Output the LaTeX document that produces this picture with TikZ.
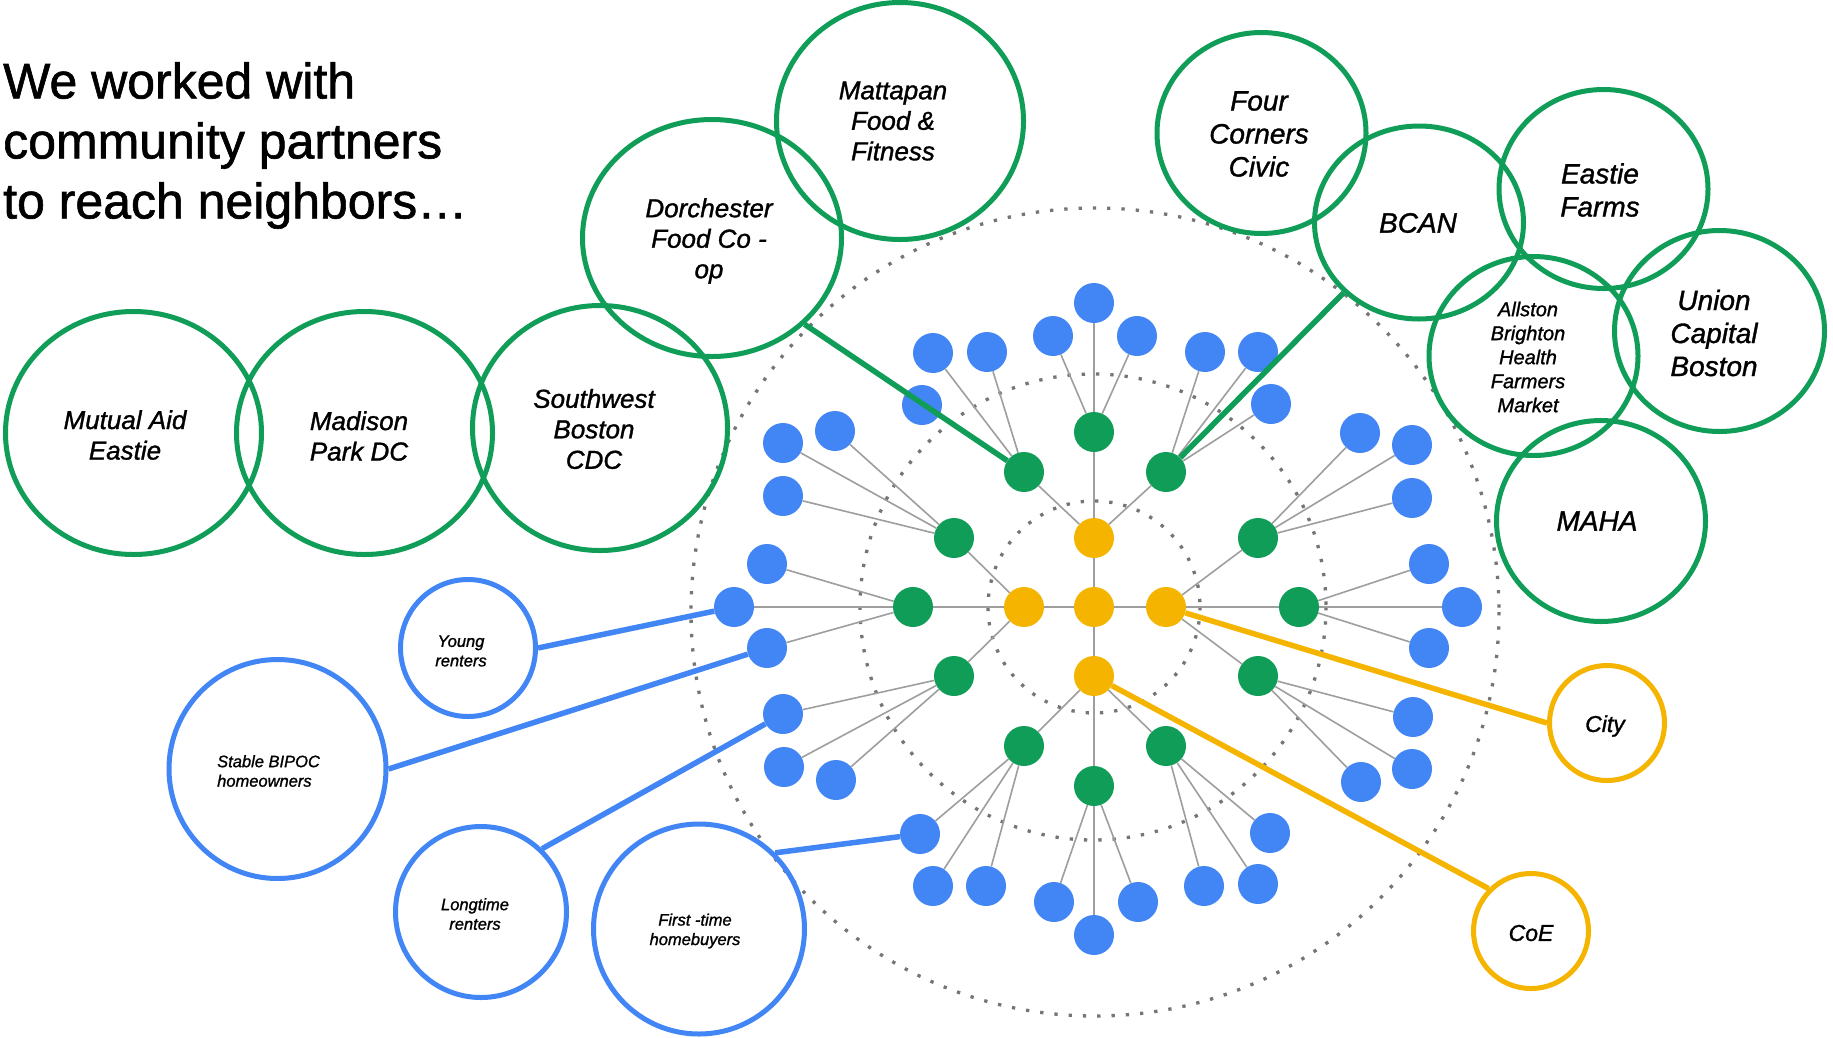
\documentclass[tikz,border=0pt]{standalone}
\usepackage{fontspec}
\setmainfont{Liberation Sans}[BoldFont={Liberation Sans},BoldItalicFont={Liberation Sans Italic},BoldFeatures={FakeBold=1.2},BoldItalicFeatures={FakeBold=1.2}]
\usetikzlibrary{shapes.geometric}
\definecolor{gg}{HTML}{0F9D58}
\definecolor{gb}{HTML}{4285F4}
\definecolor{gy}{HTML}{F4B400}
\definecolor{spokec}{HTML}{9E9E9E}
\definecolor{dotc}{HTML}{757575}
\begin{document}
\begin{tikzpicture}[x=1pt,y=-1pt,
  ynode/.style={circle,minimum size=40pt,inner sep=0pt,fill=gy},
  gnode/.style={circle,minimum size=40pt,inner sep=0pt,fill=gg},
  bnode/.style={circle,minimum size=40pt,inner sep=0pt,fill=gb},
  spokeline/.style={draw=spokec,line width=1.6pt},
  dotring/.style={draw=dotc,line width=3.3pt,dash pattern=on 3.3pt off 11pt},
  bigc/.style={ellipse,draw=#1,line width=5pt,inner sep=0pt},
  conn/.style={draw=#1,line width=5.5pt},
  lblA/.style={font=\fontsize{26}{30.5}\selectfont\bfseries\itshape,align=center,inner sep=0pt},
  lblB/.style={font=\fontsize{28}{33}\selectfont\bfseries\itshape,align=center,inner sep=0pt},
  lblC/.style={font=\fontsize{20}{24}\selectfont\bfseries\itshape,align=center,inner sep=0pt},
  lblD/.style={font=\fontsize{16.5}{19.5}\selectfont\bfseries\itshape,align=center,inner sep=0pt},
  lblE/.style={font=\fontsize{23}{27}\selectfont\bfseries\itshape,align=center,inner sep=0pt}]
\path[use as bounding box,fill=white] (0,0) rectangle (1833,1037);

% dotted rings
\draw[dotring] (1094,607) circle[radius=106];
\draw[dotring] (1093,607) circle[radius=233];
\draw[dotring] (1095,612) circle[radius=404];

% title
\node[anchor=north west,inner sep=0pt,align=left,font=\fontsize{50}{60}\selectfont\bfseries] (title) at (3,62)
  {We worked with\\community partners\\to reach neighbors…};

% yellow core
\node[ynode] (yc) at (1094,607) {};
\node[ynode] (yt) at (1094,538) {};
\node[ynode] (yl) at (1024,607) {};
\node[ynode] (yr) at (1166,607) {};
\node[ynode] (yb) at (1094,676) {};

% green ring
\node[gnode] (gN)  at (1094,432) {};
\node[gnode] (gNW) at (1024,472) {};
\node[gnode] (gNE) at (1166,472) {};
\node[gnode] (gWN) at (954,538) {};
\node[gnode] (gW)  at (913,607) {};
\node[gnode] (gWS) at (954,676) {};
\node[gnode] (gSW) at (1024,746) {};
\node[gnode] (gS)  at (1094,786) {};
\node[gnode] (gSE) at (1166,746) {};
\node[gnode] (gES) at (1258,676) {};
\node[gnode] (gE)  at (1299,607) {};
\node[gnode] (gEN) at (1258,538) {};

% blue leaves
\foreach \g/\ax/\ay/\bx/\by/\cx/\cy in {
  gN/1094/303/1053/336/1137/336,
  gNW/933/353/987/352/922/405,
  gNE/1205/352/1258/352/1271/404,
  gWN/783/443/835/431/783/496,
  gW/767/564/734/607/767/648,
  gWS/783/714/784/767/836/780,
  gSW/920/834/933/886/986/886,
  gS/1054/902/1094/935/1138/902,
  gSE/1270/833/1258/884/1204/886,
  gES/1413/717/1412/769/1361/782,
  gE/1429/564/1462/607/1429/648,
  gEN/1360/433/1412/445/1412/498}{
  \node[bnode] (\g-1) at (\ax,\ay) {};
  \node[bnode] (\g-2) at (\bx,\by) {};
  \node[bnode] (\g-3) at (\cx,\cy) {};
  \draw[spokeline] (\g) -- (\g-1);
  \draw[spokeline] (\g) -- (\g-2);
  \draw[spokeline] (\g) -- (\g-3);
}

% yellow-green spokes
\foreach \a/\b in {yc/yt,yc/yl,yc/yr,yc/yb,
  yt/gN,yt/gNW,yt/gNE,yl/gWN,yl/gW,yl/gWS,
  yb/gSW,yb/gS,yb/gSE,yr/gES,yr/gE,yr/gEN}
  \draw[spokeline] (\a) -- (\b);

% green partner ellipses
\node[bigc=gg,minimum width=256pt,minimum height=243pt] (mut) at (133.5,433) {};
\node[bigc=gg,minimum width=256pt,minimum height=243pt] (mad) at (364.5,433) {};
\node[bigc=gg,minimum width=255pt,minimum height=245pt] (sw) at (600,428) {};
\node[bigc=gg,minimum width=259pt,minimum height=237pt] (dor) at (712,238) {};
\node[bigc=gg,minimum width=247pt,minimum height=237pt] (mat) at (900,121) {};
\node[bigc=gg,minimum width=209pt,minimum height=201pt] (four) at (1261.5,133) {};
\node[bigc=gg,minimum width=209pt,minimum height=193pt] (bcan) at (1419,222.5) {};
\node[bigc=gg,minimum width=209pt,minimum height=199pt] (eastie) at (1603.5,189) {};
\node[bigc=gg,minimum width=209pt,minimum height=199pt] (allston) at (1533.5,356) {};
\node[bigc=gg,minimum width=210pt,minimum height=201pt] (union) at (1719.5,331) {};
\node[bigc=gg,minimum width=209pt,minimum height=201pt] (maha) at (1601,521) {};

% blue group ellipses
\node[bigc=gb,minimum width=135pt,minimum height=137pt] (young) at (468,648) {};
\node[bigc=gb,minimum width=217pt,minimum height=219pt] (stable) at (277.5,769) {};
\node[bigc=gb,minimum width=171pt,minimum height=171pt] (long) at (481,912) {};
\node[bigc=gb,minimum width=211pt,minimum height=210pt] (first) at (699,929) {};

% yellow group ellipses
\node[bigc=gy,minimum width=115pt,minimum height=115pt] (city) at (1607,723) {};
\node[bigc=gy,minimum width=115pt,minimum height=115pt] (coe) at (1531,931) {};

% connectors
\draw[conn=gg] (dor.-43) -- (gNW);
\draw[conn=gg] (bcan.-137) -- (gNE);
\draw[conn=gb] (young.0) -- (gW-2);
\draw[conn=gb] (stable.0) -- (gW-3);
\draw[conn=gb] (long.46) -- (gWS-1);
\draw[conn=gb] (first.45) -- (gSW-1);
\draw[conn=gy] (yr) -- (city.180);
\draw[conn=gy] (yb) -- (coe.135);

% labels
\node[lblA] (tmut) at (125,435) {Mutual Aid\\Eastie};
\node[lblA] (tmad) at (359,436) {Madison\\Park DC};
\node[lblA] (tsw) at (594,429) {Southwest\\Boston\\CDC};
\node[lblA] (tdor) at (709,241) {Dorchester\\Food Co -\\op};
\node[lblA] (tmat) at (893,121) {Mattapan\\Food \&\\Fitness};
\node[lblB] (tfour) at (1259,134) {Four\\Corners\\Civic};
\node[lblB] (tbcan) at (1418,223) {BCAN};
\node[lblB] (teastie) at (1600,190) {Eastie\\Farms};
\node[lblC] (tallston) at (1528,357) {Allston\\Brighton\\Health\\Farmers\\Market};
\node[lblB] (tunion) at (1714,333) {Union\\Capital\\Boston};
\node[lblB] (tmaha) at (1597,521) {MAHA};
\node[lblD] (tyoung) at (461,651) {Young\\renters};
\node[lblD,align=left,anchor=west] (tstable) at (217,771) {Stable BIPOC\\homeowners};
\node[lblD] (tlong) at (475,914) {Longtime\\renters};
\node[lblD] (tfirst) at (695,931) {First -time\\homebuyers};
\node[lblE] (tcity) at (1605,726) {City};
\node[lblE] (tcoe) at (1531,933) {CoE};
\end{tikzpicture}
\end{document}
